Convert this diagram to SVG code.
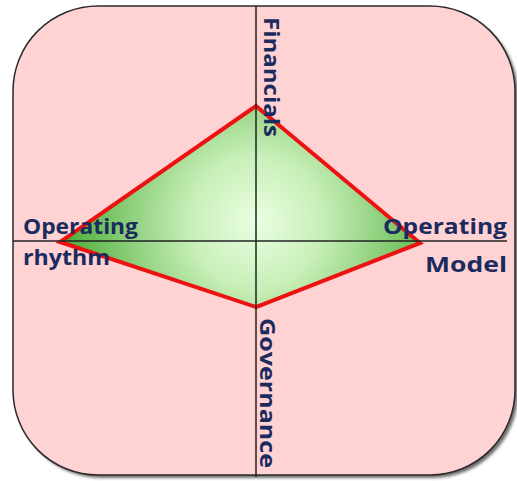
<svg xmlns="http://www.w3.org/2000/svg" width="517" height="481" viewBox="0 0 517 481">
  <defs>
    <radialGradient id="diamondFill" cx="256" cy="222" r="190" gradientUnits="userSpaceOnUse">
      <stop offset="0" stop-color="#eaffe2"/>
      <stop offset="0.35" stop-color="#c8efb8"/>
      <stop offset="1" stop-color="#4fae3c"/>
    </radialGradient>
    <filter id="softShadow" x="-5%" y="-5%" width="110%" height="110%">
      <feGaussianBlur stdDeviation="1.5"/>
    </filter>
  </defs>
  <style>
    .label { font-family: "Open Sans", Lato, "Liberation Sans", sans-serif; font-weight: bold; font-size: 21px; fill: #1c2b5e; }
    .axis { stroke: #222222; stroke-width: 1.5; fill: none; }
  </style>

  <rect width="517" height="481" fill="#ffffff"/>

  <g id="panel">
    <rect x="16" y="9" width="502" height="469" rx="85" ry="85" fill="#6e6e6e" filter="url(#softShadow)"/>
    <rect x="13" y="6" width="502" height="469" rx="85" ry="85" fill="#ffd3d3" stroke="#2a2a2a" stroke-width="1.5"/>
  </g>

  <g id="diamond">
    <polygon points="256,106 420,243 256,307 60,242" fill="url(#diamondFill)" stroke="#ee1111" stroke-width="4" stroke-linejoin="miter"/>
  </g>

  <g id="axes">
    <line class="axis" x1="256" y1="6" x2="256" y2="477"/>
    <line class="axis" x1="13" y1="241" x2="507" y2="241"/>
  </g>

  <g id="operating-rhythm">
    <text class="label" x="23" y="234" textLength="115" lengthAdjust="spacingAndGlyphs">Operating</text>
    <text class="label" x="23" y="265" textLength="87" lengthAdjust="spacingAndGlyphs">rhythm</text>
  </g>

  <g id="operating-model">
    <text class="label" x="383" y="234" textLength="124" lengthAdjust="spacingAndGlyphs">Operating</text>
    <text class="label" x="425" y="272" textLength="82" lengthAdjust="spacingAndGlyphs">Model</text>
  </g>

  <g id="financials">
    <text class="label" transform="translate(264,17) rotate(90)" x="0" y="0" textLength="120" lengthAdjust="spacingAndGlyphs">Financials</text>
  </g>

  <g id="governance">
    <text class="label" transform="translate(260,318) rotate(90)" x="0" y="0" textLength="150" lengthAdjust="spacingAndGlyphs">Governance</text>
  </g>
</svg>
